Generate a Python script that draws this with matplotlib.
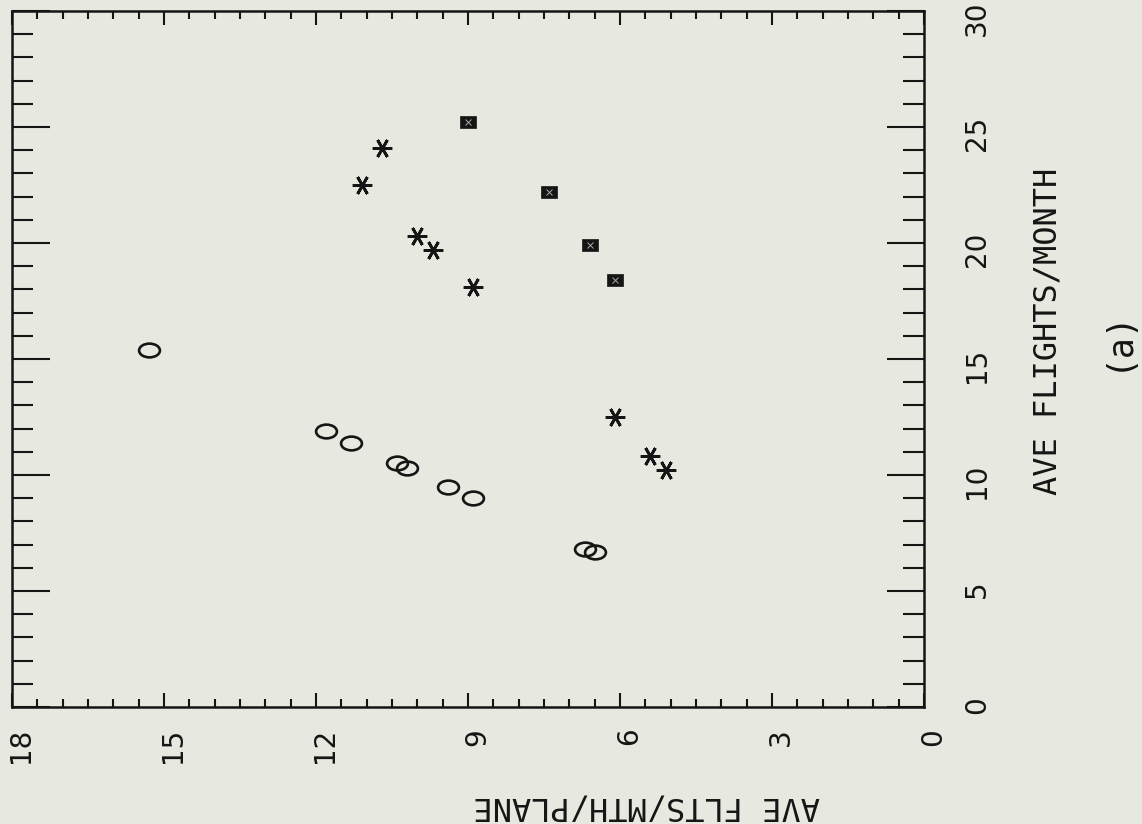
import matplotlib
matplotlib.use("Agg")
import numpy as np
import matplotlib.pyplot as plt
from matplotlib.path import Path
from matplotlib.ticker import MultipleLocator
from matplotlib.transforms import ScaledTranslation

# page is printed sideways: flights/month runs up the page, flts/mth/plane runs right-to-left
plt.rcParams["font.family"] = ["DejaVu Sans Mono", "DejaVu Sans"]

BG = "#e7e8df"
INK = "#151515"

# group 1 (O)
o_flights = [15.4, 11.9, 11.4, 10.5, 10.3, 9.5, 9.0, 6.8, 6.7]
o_plane = [15.3, 11.8, 11.3, 10.4, 10.2, 9.4, 8.9, 6.7, 6.5]

# group 2 (*)
star_flights = [24.1, 22.5, 20.3, 19.7, 18.1, 12.5, 10.8, 10.2]
star_plane = [10.7, 11.1, 10.0, 9.7, 8.9, 6.1, 5.4, 5.1]

# group 3 (boxed x)
box_flights = [25.2, 22.2, 19.9, 18.4]
box_plane = [9.0, 7.4, 6.6, 6.1]

x_ticks = [0, 3, 6, 9, 12, 15, 18]
y_ticks = [0, 5, 10, 15, 20, 25, 30]

# letter "O" turned on its side -> flat ellipse
circ = Path.unit_circle()
oval = Path(circ.vertices * np.array([1.0, 0.66]), circ.codes)
rect = Path([(-1, -0.75), (1, -0.75), (1, 0.75), (-1, 0.75), (-1, -0.75)],
            [Path.MOVETO, Path.LINETO, Path.LINETO, Path.LINETO, Path.CLOSEPOLY])

fig = plt.figure(figsize=(11.42, 8.24), dpi=100, facecolor=BG)
ax = fig.add_axes([12 / 1142, 117 / 824, 912 / 1142, 696 / 824], facecolor=BG)

ax.plot(o_plane, o_flights, ls="none", marker=oval, ms=15,
        mfc="none", mec=INK, mew=1.9)
ax.plot(star_plane, star_flights, ls="none", marker=(6, 2, 90), ms=14,
        mec=INK, mew=2.0)
ax.plot(box_plane, box_flights, ls="none", marker=rect, ms=11.5,
        mfc=INK, mec=INK, mew=0.5)
ax.plot(box_plane, box_flights, ls="none", marker="x", ms=4,
        mec="#a9a9a2", mew=0.7)

ax.set_xlim(18, 0)
ax.set_ylim(0, 30)
ax.set_xticks(x_ticks)
ax.set_yticks(y_ticks)
ax.xaxis.set_minor_locator(MultipleLocator(0.5))
ax.yaxis.set_minor_locator(MultipleLocator(1))

for sp in ax.spines.values():
    sp.set_linewidth(1.8)
    sp.set_color(INK)

ax.tick_params(axis="x", which="both", direction="in", top=True, bottom=True,
               labelbottom=True, labeltop=False, width=1.5, color=INK)
ax.tick_params(axis="x", which="major", length=10, pad=15, labelrotation=90,
               labelsize=20, labelcolor=INK)
ax.tick_params(axis="x", which="minor", length=5.8)
ax.tick_params(axis="y", which="both", direction="in", left=True, right=True,
               labelleft=False, labelright=True, width=1.5, color=INK)
ax.tick_params(axis="y", which="major", length=27, pad=28, labelrotation=90,
               labelsize=20, labelcolor=INK)
ax.tick_params(axis="y", which="minor", length=15)

# plain (undotted) zeros on the numbers
for lab in ax.get_xticklabels() + ax.get_yticklabels():
    lab.set_family("DejaVu Sans")

# nudge the sideways bottom labels a little to the right of their ticks
shift = ScaledTranslation(0.09, 0, fig.dpi_scale_trans)
for lab in ax.get_xticklabels():
    lab.set_transform(lab.get_transform() + shift)

fig.text(1048 / 1142, 1 - 331 / 824, "AVE FLIGHTS/MONTH", rotation=90,
         ha="center", va="center", fontsize=23, color=INK)
fig.text(1117 / 1142, 1 - 340 / 824, "(a)", rotation=90,
         ha="center", va="center", fontsize=25, color=INK)
fig.text(647 / 1142, 1 - 806 / 824, "AVE FLTS/MTH/PLANE", rotation=180,
         ha="center", va="center", fontsize=23, color=INK)

fig.savefig("out.png", dpi=100, facecolor=BG)
plt.close(fig)
